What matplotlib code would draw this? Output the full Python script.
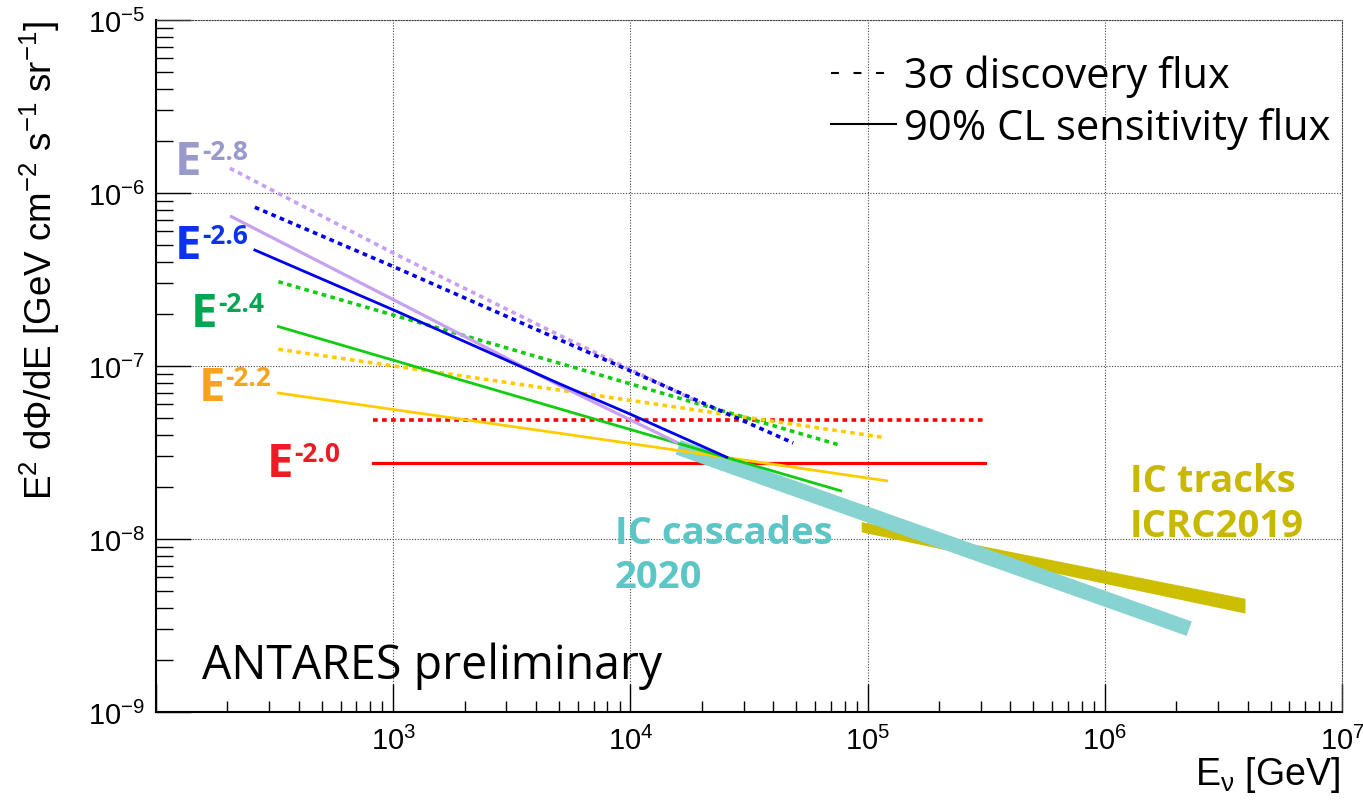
import matplotlib
matplotlib.use("Agg")
import matplotlib.pyplot as plt
from matplotlib.lines import Line2D

plt.rcParams['font.family'] = ['Liberation Sans', 'DejaVu Sans']
plt.rcParams['mathtext.fontset'] = 'custom'
plt.rcParams['mathtext.rm'] = 'Liberation Sans'
plt.rcParams['mathtext.it'] = 'Liberation Sans:italic'
plt.rcParams['mathtext.bf'] = 'Liberation Sans:bold'
plt.rcParams['mathtext.sf'] = 'Liberation Sans'
plt.rcParams['mathtext.default'] = 'regular'

# ---- values: E [GeV] vs E^2 dPhi/dE [GeV cm-2 s-1 sr-1]
# E^-2.8
e28_disc_E = [205, 1018, 5050, 19650]
e28_disc_F = [1.39e-6, 4.44e-7, 1.50e-7, 6.11e-8]
e28_sens_E = [208, 1018, 5050, 15670]
e28_sens_F = [7.30e-7, 2.39e-7, 7.69e-8, 3.62e-8]
# E^-2.6
e26_disc_E = [261, 1018, 7450, 48600]
e26_disc_F = [8.27e-7, 3.72e-7, 1.12e-7, 3.59e-8]
e26_sens_E = [261, 1018, 5050, 9950, 25470]
e26_sens_F = [4.68e-7, 2.09e-7, 7.87e-8, 5.28e-8, 2.97e-8]
# E^-2.4
e24_disc_E = [328, 7450, 75200]
e24_disc_F = [3.07e-7, 8.87e-8, 3.51e-8]
e24_sens_E = [328, 7450, 77000]
e24_sens_F = [1.69e-7, 4.83e-8, 1.90e-8]
# E^-2.2
e22_disc_E = [328, 7450, 116400]
e22_disc_F = [1.25e-7, 6.71e-8, 3.87e-8]
e22_sens_E = [328, 7450, 120400]
e22_sens_F = [6.98e-8, 3.78e-8, 2.17e-8]
# E^-2.0
e20_disc_E = [820, 313000]
e20_disc_F = [4.89e-8, 4.89e-8]
e20_sens_E = [820, 313000]
e20_sens_F = [2.76e-8, 2.76e-8]

# IceCube fits
ic_casc_E = [15900, 2.27e6]
ic_casc_F = [3.39e-8, 3.03e-9]
ic_trk_E = [9.4e4, 3.9e6]
ic_trk_lo = [1.10e-8, 3.73e-9]
ic_trk_hi = [1.26e-8, 4.54e-9]

# spectral index labels
idx_labels = ['-2.8', '-2.6', '-2.4', '-2.2', '-2.0']
idx_colors = ['#9999cc', '#0a32f0', '#00a651', '#f7a31c', '#ed1c24']
idx_x = [120, 120, 140, 151, 293]
idx_y = [1.29e-6, 4.2e-7, 1.71e-7, 6.38e-8, 2.32e-8]

xtick_vals = [1e2, 1e3, 1e4, 1e5, 1e6, 1e7]
xtick_labels = ['', r'$10^{3}$', r'$10^{4}$', r'$10^{5}$', r'$10^{6}$', r'$10^{7}$']
ytick_vals = [1e-9, 1e-8, 1e-7, 1e-6, 1e-5]
ytick_labels = [r'$10^{-9}$', r'$10^{-8}$', r'$10^{-7}$', r'$10^{-6}$', r'$10^{-5}$']

W, H = 1363, 803
fig = plt.figure(figsize=(W / 100, H / 100), dpi=100)
ax = fig.add_axes([156 / W, 1 - 713 / H, (1342 - 156) / W, (713 - 21) / H])
ax.set_xscale('log')
ax.set_yscale('log')
ax.set_xlim(1e2, 1e7)
ax.set_ylim(1e-9, 1e-5)

dots = (0, (1.3, 1.2))
lw = 2.0
dlw = 2.6
# E^-2.0 sits below the cascade band
ax.plot(e20_disc_E, e20_disc_F, color='#ff0000', lw=dlw, ls=dots, zorder=2.5)
ax.plot(e20_sens_E, e20_sens_F, color='#ff0000', lw=2.3, zorder=2.5)

# IceCube tracks band and cascades band
ax.fill_between(ic_trk_E, ic_trk_lo, ic_trk_hi, color='#ccbe00', lw=0, zorder=2.6)
ax.plot(ic_casc_E, ic_casc_F, color='#87d3d1', lw=11, solid_capstyle='butt', zorder=3)

ax.plot(e22_disc_E, e22_disc_F, color='#ffcc00', lw=dlw, ls=dots, zorder=4)
ax.plot(e22_sens_E, e22_sens_F, color='#ffcc00', lw=lw, zorder=4)
ax.plot(e24_disc_E, e24_disc_F, color='#11cc11', lw=dlw, ls=dots, zorder=4)
ax.plot(e24_sens_E, e24_sens_F, color='#11cc11', lw=lw, zorder=4)
ax.plot(e26_disc_E, e26_disc_F, color='#0000ee', lw=dlw, ls=dots, zorder=4.2)
ax.plot(e26_sens_E, e26_sens_F, color='#0000ee', lw=lw, zorder=4.2)
ax.plot(e28_disc_E, e28_disc_F, color='#c8a0f0', lw=dlw, ls=dots, zorder=4.1)
ax.plot(e28_sens_E, e28_sens_F, color='#c8a0f0', lw=2.3, zorder=4.1)

# E^-x labels
for lab, col, x, y in zip(idx_labels, idx_colors, idx_x, idx_y):
    t = ax.text(x, y, 'E', color=col, fontsize=34, family='Open Sans',
                weight='bold', va='baseline', ha='left')
    ax.annotate(lab, xy=(1.0, 1.0), xycoords=t, xytext=(0.5, 0),
                textcoords='offset points', color=col, fontsize=19,
                family='Open Sans', weight='bold', va='top', ha='left')

ax.text(8610, 9.48e-9, 'IC cascades', color='#5cc6c6', fontsize=27.5,
        family='Open Sans', weight='bold', va='baseline')
ax.text(8610, 5.28e-9, '2020', color='#5cc6c6', fontsize=27.5,
        family='Open Sans', weight='bold', va='baseline')
ax.text(1.277e6, 1.90e-8, 'IC tracks', color='#c9b800', fontsize=27.5,
        family='Open Sans', weight='bold', va='baseline')
ax.text(1.277e6, 1.045e-8, 'ICRC2019', color='#c9b800', fontsize=27.5,
        family='Open Sans', weight='bold', va='baseline')

ax.text(156.3, 1.58e-9, 'ANTARES preliminary', fontsize=33.5,
        family='Open Sans', va='baseline')

# legend
h_disc = Line2D([], [], color='k', lw=1.5, ls=(0, (3.8, 7.0)))
h_sens = Line2D([], [], color='k', lw=1.5)
ax.legend([h_disc, h_sens], ['3σ discovery flux', '90% CL sensitivity flux'],
          loc='upper left', bbox_to_anchor=(831 / W, 1 - 56 / H),
          bbox_transform=fig.transFigure, frameon=False, borderpad=0,
          borderaxespad=0, handlelength=1.55, handletextpad=0.2,
          labelspacing=0.22, prop={'family': 'Open Sans', 'size': 30})

# axes styling (ROOT look)
ax.set_xticks(xtick_vals)
ax.set_xticklabels(xtick_labels)
ax.set_yticks(ytick_vals)
ax.set_yticklabels(ytick_labels)
ax.tick_params(which='both', direction='in', top=False, right=False, color='k')
ax.tick_params(axis='x', which='major', length=20, width=1, labelsize=21, pad=10)
ax.tick_params(axis='x', which='minor', length=8, width=1)
ax.tick_params(axis='y', which='major', length=25, width=1, labelsize=21, pad=8)
ax.tick_params(axis='y', which='minor', length=12, width=1)

ax.grid(which='major', ls=(0, (1, 1.5)), lw=0.8, color='#444444')
for s in ['top', 'right']:
    ax.spines[s].set_linestyle((0, (1, 1.5)))
    ax.spines[s].set_linewidth(0.8)
    ax.spines[s].set_color('#444444')
for s in ['left', 'bottom']:
    ax.spines[s].set_linewidth(1.5)

fig.text(1340 / W, 1 - 775 / H, r'E$_{\nu}$ [GeV]', fontsize=27, ha='right', va='center')
fig.text(40 / W, 1 - 20 / H, r'E$^{2}$ d$\Phi$/dE [GeV cm$^{-2}$ s$^{-1}$ sr$^{-1}$]',
         fontsize=26.5, rotation=90, ha='center', va='top')

fig.savefig('out.png', dpi=100)
